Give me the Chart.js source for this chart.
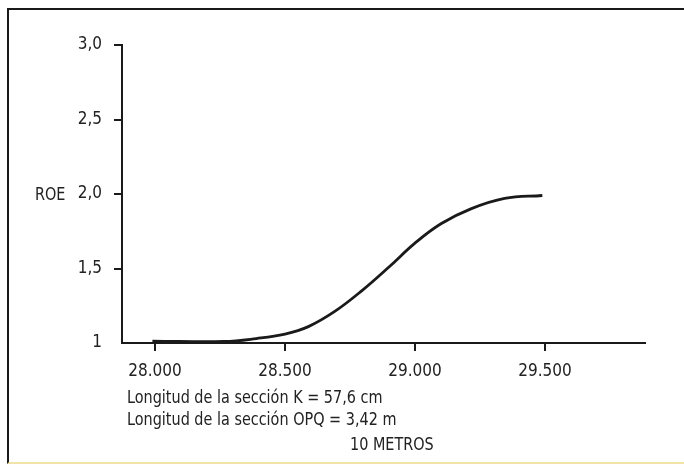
<!DOCTYPE html>
<html>
<head>
<meta charset="utf-8">
<script src="https://cdn.jsdelivr.net/npm/chart.js@4.4.1/dist/chart.umd.min.js"></script>
<style>
  html, body { margin: 0; padding: 0; background: #fff; }
  #wrap { position: relative; width: 684px; height: 465px; overflow: hidden; }
  #frame { position: absolute; left: 7px; top: 8px; width: 690px; height: 452px;
           border-left: 2px solid #1a1a1a; border-top: 2px solid #1a1a1a;
           border-bottom: 2px solid #efe3a8; }
  canvas { position: absolute; left: 0; top: 0; }
  .txt { position: absolute; font-family: "Liberation Sans Narrow", "DejaVu Sans Condensed", sans-serif;
         font-size: 18px; color: #222; white-space: nowrap; line-height: 1;
         transform: scaleX(0.89); transform-origin: left center; }
</style>
</head>
<body>
<div id="wrap">
  <div id="frame"></div>
  <canvas id="c" width="684" height="465"></canvas>
  <div class="txt" style="left:35px; top:185px;">ROE</div>
  <div class="txt" style="left:127px; top:388px;">Longitud de la sección K = 57,6 cm</div>
  <div class="txt" style="left:127px; top:410px;">Longitud de la sección OPQ = 3,42 m</div>
  <div class="txt" style="left:350px; top:435px;">10 METROS</div>
</div>
<script>
// values
const distance = [27990, 28265, 28390, 28500, 28590, 28690, 28795, 28900, 29000, 29100, 29215, 29345, 29490];
const roe      = [1.013, 1.01, 1.03, 1.06, 1.11, 1.21, 1.35, 1.51, 1.67, 1.80, 1.90, 1.97, 1.99];

const xTicks = [28000, 28500, 29000, 29500];
const xTickLabels = ['28.000', '28.500', '29.000', '29.500'];
const yTicks = [1, 1.5, 2, 2.5, 3];
const yTickLabels = ['1', '1,5', '2,0', '2,5', '3,0'];

const FONT = { family: '"Liberation Sans Narrow", "DejaVu Sans Condensed", sans-serif', size: 17 };
const INK = '#1a1a1a';

new Chart(document.getElementById('c'), {
  type: 'line',
  data: {
    datasets: [{
      data: distance.map((x, i) => ({ x, y: roe[i] })),
      borderColor: INK,
      borderWidth: 2.8,
      pointRadius: 0,
      tension: 0.4,
      fill: false,
    }],
  },
  options: {
    responsive: false,
    animation: false,
    layout: { padding: { top: 45, right: 39, left: 0, bottom: 0 } },
    plugins: { legend: { display: false }, tooltip: { enabled: false } },
    scales: {
      x: {
        type: 'linear',
        min: 27873,
        max: 29885,
        afterBuildTicks: (s) => { s.ticks = xTicks.map(v => ({ value: v })); },
        afterFit: (s) => { s.height = 122; },
        ticks: {
          autoSkip: false,
          maxRotation: 0,
          padding: 10,
          color: '#222',
          font: FONT,
          callback: (v) => xTickLabels[xTicks.indexOf(v)] ?? '',
        },
        grid: { drawOnChartArea: false, drawTicks: true, tickLength: 8, color: INK, lineWidth: 2 },
        border: { display: true, color: INK, width: 2 },
      },
      y: {
        min: 1,
        max: 3,
        afterBuildTicks: (s) => { s.ticks = yTicks.map(v => ({ value: v })); },
        afterFit: (s) => { s.width = 122; },
        ticks: {
          padding: 12,
          color: '#222',
          font: FONT,
          callback: (v) => yTickLabels[yTicks.indexOf(v)] ?? '',
        },
        grid: {
          drawOnChartArea: false, drawTicks: true, tickLength: 8, lineWidth: 2,
          color: (ctx) => (ctx.tick && ctx.tick.value === 1 ? 'rgba(0,0,0,0)' : INK),
        },
        border: { display: true, color: INK, width: 2 },
      },
    },
  },
});
</script>
</body>
</html>
